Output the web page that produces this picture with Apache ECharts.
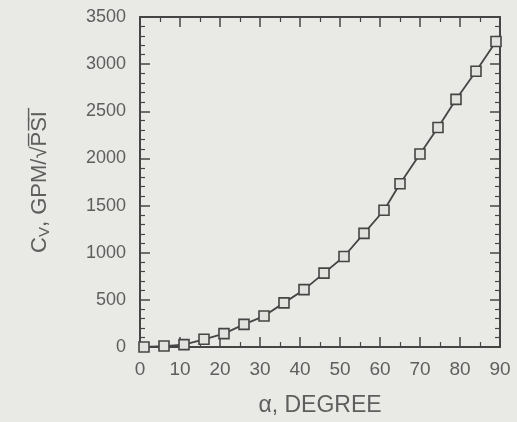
<!DOCTYPE html>
<html lang="en">
<head>
    <meta charset="UTF-8">
    <title></title>
    <script type="text/javascript" src="https://cdn.jsdelivr.net/npm/echarts@6/dist/echarts.min.js"></script>
    <style>
        html, body {margin: 0; padding: 0; background: #e9e9e6;}
    </style>
</head>
<body>
<div id="main" style="width: 517px;height: 422px"></div>
</body>
</html>
<script type="text/javascript">
    // 读图得到的数据
    var alpha = [1, 6, 11, 16, 21, 26, 31, 36, 41, 46, 51, 56, 61, 65, 70, 74.5, 79, 84, 89];
    var cv = [0, 10, 25, 82, 142, 240, 328, 468, 608, 784, 960, 1205, 1450, 1732, 2047, 2328, 2626, 2924, 3240];
    var xTicks = [0, 10, 20, 30, 40, 50, 60, 70, 80, 90];
    var yTicks = [0, 500, 1000, 1500, 2000, 2500, 3000, 3500];

    var points = alpha.map(function (a, i) {
        return [a, cv[i]];
    });

    var ink = '#454545';
    var textColor = '#5e5e5e';
    var font = 'Liberation Sans';

    function boxAxis(pos, isX, show) {
        return {
            type: 'value',
            position: pos,
            min: isX ? xTicks[0] : yTicks[0],
            max: isX ? xTicks[xTicks.length - 1] : yTicks[yTicks.length - 1],
            interval: isX ? xTicks[1] - xTicks[0] : yTicks[1] - yTicks[0],
            axisLine: {show: true, onZero: false, lineStyle: {color: ink, width: 2}},
            axisTick: {show: true, inside: true, length: 10, lineStyle: {color: ink, width: 1.5}},
            minorTick: {show: true, splitNumber: isX ? 2 : 5, length: 5, lineStyle: {color: ink, width: 1.2}},
            splitLine: {show: false},
            axisLabel: {
                show: show,
                color: textColor,
                fontFamily: font,
                fontSize: isX ? 19 : 18,
                margin: isX ? 13 : 14,
                formatter: function (v) {
                    return String(v);
                }
            }
        };
    }

    var xBottom = boxAxis('bottom', true, true);
    xBottom.name = 'α, DEGREE';
    xBottom.nameLocation = 'middle';
    xBottom.nameGap = 47;
    xBottom.nameTextStyle = {color: textColor, fontFamily: font, fontSize: 23};

    var yLeft = boxAxis('left', false, true);
    yLeft.name = '{c|C}{s|V}{c|, GPM/√P̅S̅I̅}';
    yLeft.nameLocation = 'middle';
    yLeft.nameGap = 88;
    yLeft.nameTextStyle = {
        color: textColor,
        fontFamily: font,
        rich: {
            c: {fontSize: 22, fontFamily: font, color: textColor},
            s: {fontSize: 15, fontFamily: font, color: textColor, padding: [10, 0, 0, 0]}
        }
    };

    var myChart = echarts.init(document.getElementById('main'));
    var option = {
        backgroundColor: '#e9e9e6',
        animation: false,
        grid: {left: 140, right: 17, top: 17, bottom: 72},
        xAxis: [xBottom, boxAxis('top', true, false)],
        yAxis: [yLeft, boxAxis('right', false, false)],
        series: [
            {
                type: 'line',
                data: points,
                symbol: 'rect',
                symbolSize: 10,
                lineStyle: {color: ink, width: 1.8},
                itemStyle: {color: '#e2e2df', borderColor: ink, borderWidth: 1.6}
            },
            {
                type: 'scatter',
                data: points,
                symbol: 'rect',
                symbolSize: 3,
                silent: true,
                itemStyle: {color: 'rgba(0,0,0,0)', borderColor: '#777', borderWidth: 1}
            }
        ]
    };
    myChart.setOption(option);
</script>
